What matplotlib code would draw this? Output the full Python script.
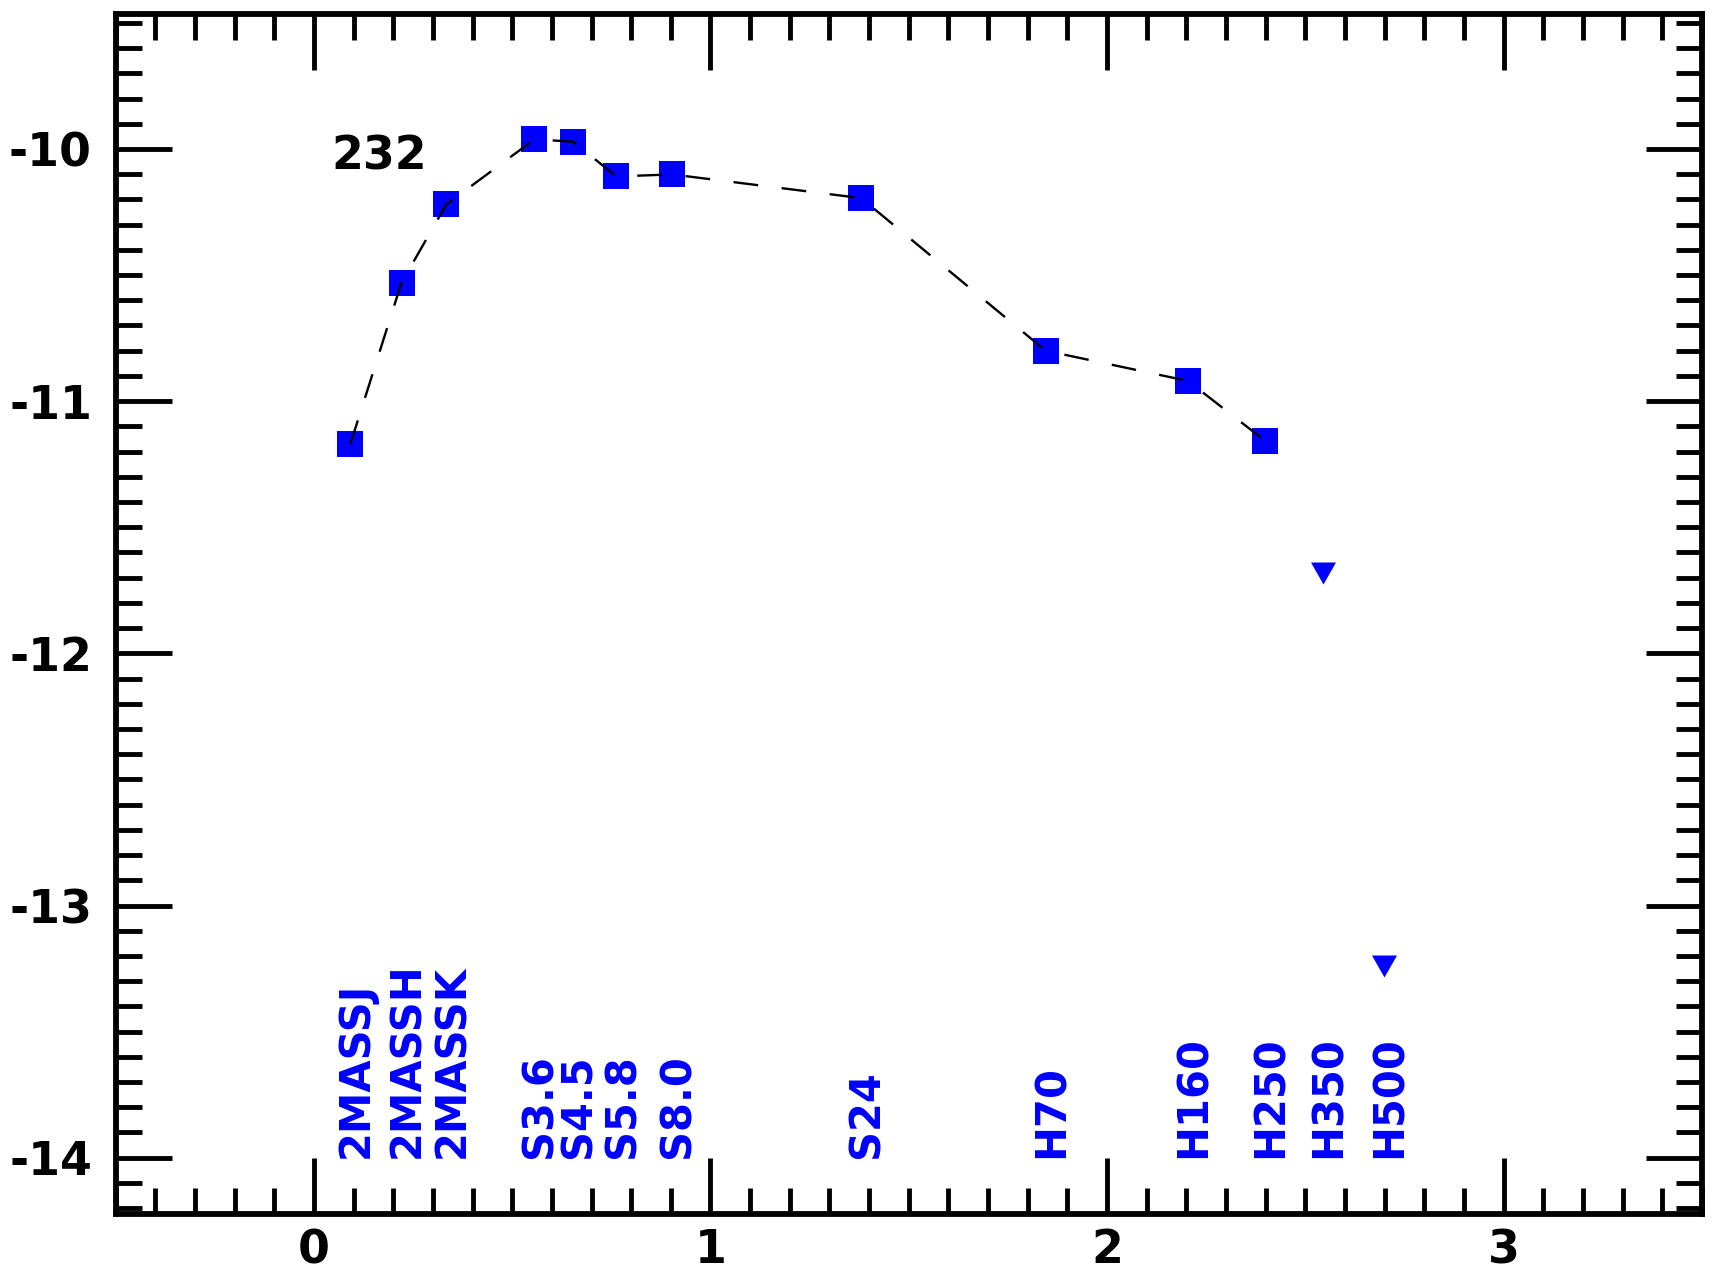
import numpy as np
import matplotlib
matplotlib.use("Agg")
import matplotlib.pyplot as plt

plt.rcParams['font.family'] = ['DejaVu Sans']
plt.rcParams['font.weight'] = 'bold'
plt.rcParams['axes.unicode_minus'] = False

# log10 of band wavelength (micron) and log flux
bands = ['2MASSJ', '2MASSH', '2MASSK', 'S3.6', 'S4.5', 'S5.8', 'S8.0',
         'S24', 'H70', 'H160', 'H250', 'H350', 'H500']
logwl = [0.092, 0.221, 0.334, 0.556, 0.653, 0.763, 0.903,
         1.380, 1.845, 2.204, 2.398, 2.544, 2.699]
logflux = [-11.17, -10.53, -10.22, -9.962, -9.971, -10.109, -10.101,
           -10.195, -10.80, -10.92, -11.157, -11.68, -13.24]
# last two are upper limits
detected = [True] * 11 + [False, False]
source_id = '232'

x = np.array(logwl)
y = np.array(logflux)
det = np.array(detected)

fig = plt.figure(figsize=(17.17, 12.75), dpi=100)
ax = fig.add_axes([0.0673, 0.0475, 0.924, 0.9415])

ax.plot(x[det], y[det], 's', color='blue', markersize=19, markeredgewidth=0, zorder=2)
tri = [(-1, 0.88), (1, 0.88), (0, -0.88)]
ax.plot(x[~det], y[~det], linestyle='none', marker=tri, color='blue',
        markersize=18, markeredgewidth=0, zorder=2)
ax.plot(x[det], y[det], color='black', lw=1.7, linestyle=(0, (10.5, 10)), zorder=3)

for lab, xi in zip(bands, logwl):
    ax.annotate(lab, (xi, -14.0), xytext=(4, 0), textcoords='offset points',
                rotation=90, ha='center', va='bottom', color='blue',
                fontsize=30, fontweight='bold')

ax.text(0.045, -10.03, source_id, fontsize=33, fontweight='bold',
        ha='left', va='center', color='black')

ax.set_xlim(-0.5, 3.5)
ax.set_ylim(-14.225, -9.465)
ax.set_xticks([0, 1, 2, 3])
ax.set_yticks([-14, -13, -12, -11, -10])
ax.set_xticks(np.arange(-0.5, 3.51, 0.1), minor=True)
ax.set_yticks(np.arange(-14.2, -9.45, 0.1), minor=True)

for s in ax.spines.values():
    s.set_linewidth(4.2)
ax.tick_params(which='both', direction='in', top=True, right=True, width=3.5)
ax.tick_params(which='major', length=40, labelsize=33)
ax.tick_params(which='minor', length=19)
ax.tick_params(axis='x', which='major', pad=10)
ax.tick_params(axis='y', which='major', pad=17)
for lb in ax.get_xticklabels() + ax.get_yticklabels():
    lb.set_fontweight('bold')

fig.savefig('out.png', dpi=100)
